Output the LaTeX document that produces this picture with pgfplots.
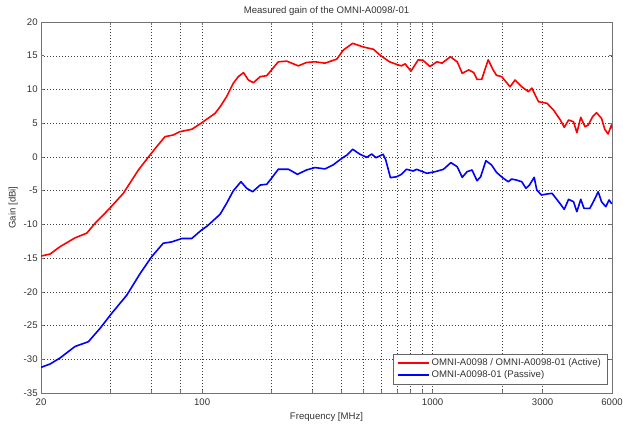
\documentclass[border=0pt]{standalone}
\usepackage{pgfplots}
\pgfplotsset{compat=1.18}
\usepackage{pgfplotstable}
\usepackage{fontspec}
\setmainfont{Liberation Sans}

\pgfplotstableread{
f g
20 -14.7
21.9 -14.4
24.2 -13.3
28.1 -12.0
31.6 -11.3
34.3 -9.85
39.8 -7.6
45.5 -5.4
52.9 -1.94
59.4 0.28
63.5 1.52
69 3.0
74.9 3.25
80 3.74
90.1 4.09
99.7 5.07
113.8 6.46
119.7 7.44
127.7 8.93
136.4 10.9
143.6 11.9
151.2 12.5
158.7 11.4
166.8 11.0
178.6 11.9
190.6 12.04
200 12.9
214 14.1
233 14.2
261 13.5
284 14.0
309 14.1
341 13.9
384 14.5
410 15.85
450 16.84
500 16.3
554 15.95
591 15.1
650 14.1
700 13.7
732 13.5
760 13.8
805 12.7
866 14.4
910 14.3
973 13.4
1044 14.1
1098 13.9
1194 14.85
1278 14.1
1344 12.4
1434 12.9
1508 12.5
1558 11.5
1633 11.5
1742 14.4
1830 12.9
1892 12.1
1994 11.9
2166 10.4
2278 11.4
2436 10.4
2604 9.67
2694 10.2
2786 9.18
2880 8.18
3132 7.95
3348 6.95
3580 5.47
3724 4.39
3888 5.47
4084 5.22
4224 3.59
4392 5.87
4580 4.48
4732 4.73
4944 5.96
5142 6.55
5402 5.72
5582 4.09
5770 3.40
5966 4.73
6000 4.2
}\activedata

\pgfplotstableread{
f g
20 -31.2
21.9 -30.7
24.2 -29.8
28.1 -28.1
32.1 -27.4
36.1 -25.4
40.5 -23.2
47.1 -20.5
53.8 -17.3
60.4 -14.8
67.8 -12.8
73.7 -12.6
81.6 -12.1
90.1 -12.1
99.7 -10.8
104.8 -10.3
119.7 -8.5
127.7 -6.88
136.4 -5.05
147.4 -3.68
156.2 -4.66
165.6 -5.16
178.6 -4.17
190.6 -4.06
200 -3.17
214 -1.83
237 -1.83
259 -2.58
284 -1.93
309 -1.58
341 -1.78
370 -1.19
404 -0.2
425 0.28
450 1.13
484 0.39
518 -0.06
544 0.43
568 -0.12
610 0.39
626 -0.45
656 -3.08
698 -2.94
732 -2.58
770 -1.83
824 -2.09
852 -1.84
944 -2.43
1026 -2.19
1114 -1.84
1200 -0.85
1278 -1.45
1344 -3.03
1411 -2.19
1482 -1.94
1558 -3.53
1616 -2.94
1702 -0.56
1802 -1.2
1892 -2.29
2026 -3.17
2130 -3.68
2200 -3.28
2310 -3.43
2436 -3.68
2540 -4.66
2630 -4.17
2758 -3.03
2830 -4.9
2966 -5.65
3132 -5.5
3296 -5.4
3520 -6.64
3724 -7.77
3888 -6.29
4084 -6.64
4224 -8.12
4392 -6.29
4534 -7.62
4810 -7.62
5024 -6.39
5226 -5.16
5402 -6.64
5638 -7.38
5826 -6.39
5966 -6.88
6000 -6.9
}\passivedata

\pgfplotsset{
  every axis title/.style={at={(axis description cs:0.5,1.0296)}, anchor=center, text=black!80},
  every axis x label/.style={at={(axis description cs:0.5,-0.0639)}, anchor=center, text=black!80},
  every axis y label/.style={at={(axis description cs:-0.049,0.5)}, anchor=center, rotate=90, text=black!80},
}

\begin{document}
\fontsize{9.6bp}{11bp}\selectfont
\begin{tikzpicture}
\useasboundingbox (-41bp,-35bp) rectangle (582bp,393bp);
\begin{axis}[
  at={(0,0)}, anchor=south west,
  scale only axis, width=571bp, height=371bp,
  xmode=log, xmin=20, xmax=6000,
  ymin=-35, ymax=20,
  xtick={20,40,60,80,100,200,300,400,500,600,700,800,900,1000,2000,3000,6000},
  xticklabels={20,,,,100,,,,,,,,,1000,,3000,6000},
  xminorticks=false,
  ytick={-35,-30,...,20},
  /pgf/number format/assume math mode=true,
  grid=major,
  major grid style={black!75, line width=0.4bp, dash pattern=on 1bp off 2bp},
  axis line style={black!55, line width=0.6bp},
  tick style={black!55, line width=0.5bp},
  tick align=inside, major tick length=3bp,
  tick label style={text=black!80},
  xticklabel style={yshift=-2.5bp},
  title={Measured gain of the OMNI-A0098/-01},
  xlabel={Frequency [MHz]},
  ylabel={Gain [dBi]},
  legend style={at={(axis description cs:1,0)}, anchor=south east, xshift=-5bp, yshift=9bp,
    draw=black!60, fill=white, text=black!80, inner xsep=4bp, inner ysep=2.5bp},
  legend cell align=left,
  legend image code/.code={\draw[#1, line width=2bp] (0bp,0bp) -- (31bp,0bp);},
]
\addplot[color=red, line width=1.6bp, line join=round] table[x=f, y=g] {\activedata};
\addlegendentry{OMNI-A0098 / OMNI-A0098-01 (Active)}
\addplot[color=blue, line width=1.6bp, line join=round] table[x=f, y=g] {\passivedata};
\addlegendentry{OMNI-A0098-01 (Passive)}
\end{axis}
\end{tikzpicture}
\end{document}
